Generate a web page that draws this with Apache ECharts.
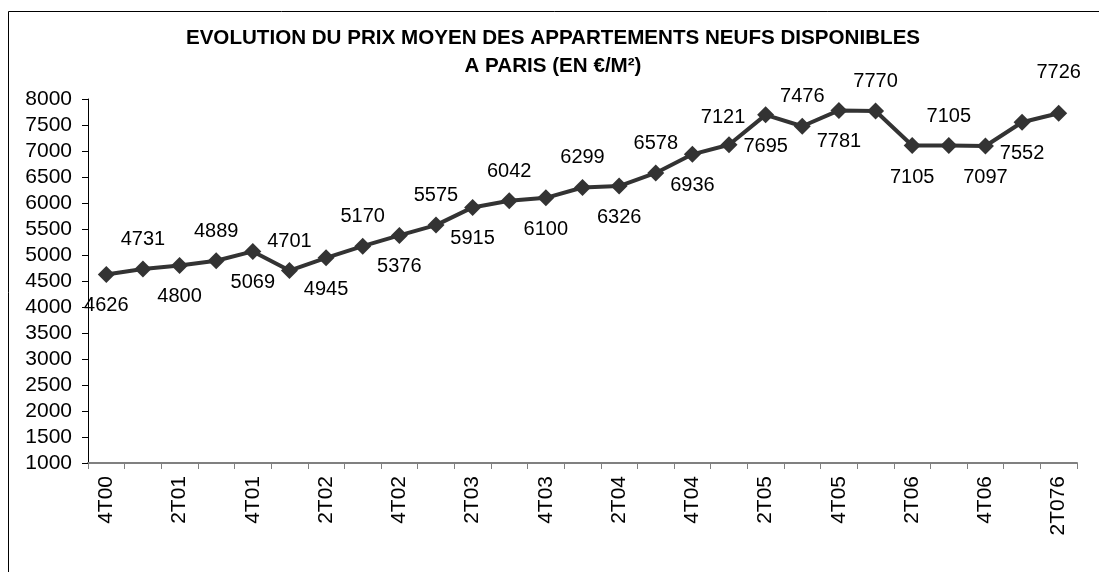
<!DOCTYPE html>
<html>
<head>
<meta charset="utf-8">
<script src="https://cdn.jsdelivr.net/npm/echarts@6/dist/echarts.min.js"></script>
<style>
html, body { margin: 0; padding: 0; background: #fff; }
#chart { width: 1099px; height: 572px; }
</style>
</head>
<body>
<div id="chart"></div>
<script>
var quarters = ["4T00", "1T01", "2T01", "3T01", "4T01", "1T02", "2T02", "3T02", "4T02",
    "1T03", "2T03", "3T03", "4T03", "1T04", "2T04", "3T04", "4T04",
    "1T05", "2T05", "3T05", "4T05", "1T06", "2T06", "3T06", "4T06", "1T07", "2T076"];
var prices = [4626, 4731, 4800, 4889, 5069, 4701, 4945, 5170, 5376, 5575, 5915, 6042, 6100, 6299,
    6326, 6578, 6936, 7121, 7695, 7476, 7781, 7770, 7105, 7105, 7097, 7552, 7726];
var yTicks = [1000, 1500, 2000, 2500, 3000, 3500, 4000, 4500, 5000, 5500, 6000, 6500, 7000, 7500, 8000];

var font = "'Liberation Sans', Arial, sans-serif";
var dark = "#333333";

// labels alternate above / below the points, like the original sheet (flips at the end)
var seriesData = prices.map(function (v, i) {
    var below = i < 25 ? (i % 2 == 0) : (i % 2 == 1);
    var lbl = {
        position: below ? "bottom" : "top",
        distance: below ? 13 : 11
    };
    if (i == 26) lbl.distance = 22;
    if (i == 17) lbl.offset = [-6, 2];
    return { value: v, label: lbl };
});

var chart = echarts.init(document.getElementById("chart"));
chart.setOption({
    animation: false,
    title: {
        text: "EVOLUTION DU PRIX MOYEN DES APPARTEMENTS NEUFS DISPONIBLES\nA PARIS (EN €/M²)",
        left: 553,
        top: 24,
        padding: 0,
        textAlign: "center",
        textStyle: {
            fontFamily: font,
            fontSize: 20.6,
            fontWeight: "bold",
            color: "#000",
            lineHeight: 28
        }
    },
    graphic: [{
        type: "rect",
        shape: { x: 8.5, y: 11.5, width: 1200, height: 700 },
        style: { fill: "none", stroke: "#000", lineWidth: 1 },
        silent: true
    }],
    grid: { left: 88, top: 99, right: 22, bottom: 109 },
    xAxis: {
        type: "category",
        data: quarters,
        boundaryGap: true,
        axisLine: { lineStyle: { color: "#808080", width: 2 } },
        axisTick: { show: true, interval: 0, length: 6, lineStyle: { color: "#808080", width: 1 } },
        axisLabel: {
            interval: 1,
            rotate: 90,
            margin: 13,
            fontFamily: font,
            fontSize: 21,
            color: "#000"
        },
        splitLine: { show: false }
    },
    yAxis: {
        type: "value",
        min: yTicks[0],
        max: yTicks[yTicks.length - 1],
        interval: 500,
        axisLine: { show: true, lineStyle: { color: "#000", width: 1 } },
        axisTick: { show: true, length: 6, lineStyle: { color: "#000" } },
        axisLabel: {
            margin: 16,
            fontFamily: font,
            fontSize: 21,
            color: "#000",
            formatter: function (v) { return String(v); }
        },
        splitLine: { show: false }
    },
    series: [{
        type: "line",
        data: seriesData,
        symbol: "diamond",
        symbolSize: 17,
        lineStyle: { color: dark, width: 4 },
        itemStyle: { color: dark },
        label: {
            show: true,
            fontFamily: font,
            fontSize: 20,
            color: "#000"
        }
    }]
});
</script>
</body>
</html>
